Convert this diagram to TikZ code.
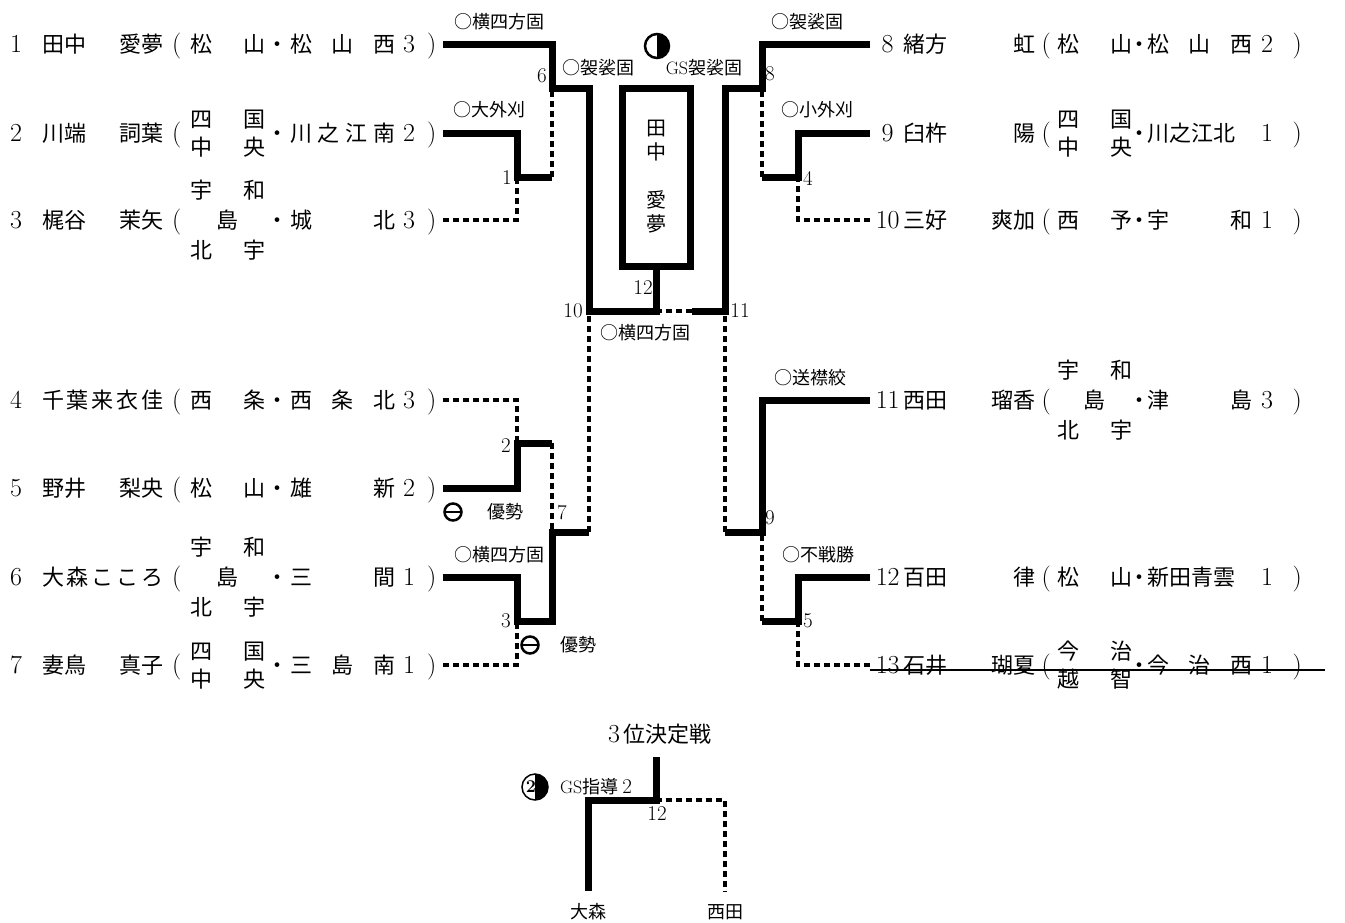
\documentclass[tikz,border=0pt]{standalone}
\usepackage{fontspec}
\usepackage{tikz}
\usetikzlibrary{calc}
\newfontfamily\jp{Noto Sans CJK JP}
\newcommand{\nmfont}{\fontsize{22}{28}\selectfont}
\newcommand{\lbfont}{\fontsize{18}{20}\selectfont\jp}
\newcommand{\dg}[1]{{\fontsize{26}{28}\selectfont #1}}
\newcommand{\twoln}[2]{\begin{tabular}{@{}c@{}}\makebox[75pt][s]{#1}\\\makebox[75pt][s]{#2}\end{tabular}}
\newcommand{\threeln}[3]{{\renewcommand{\arraystretch}{1.07}\begin{tabular}{@{}c@{}}\makebox[75pt][s]{#1}\\\makebox[75pt]{#2}\\\makebox[75pt][s]{#3}\end{tabular}}}
\newcommand{\entL}[5]{\makebox[32pt][l]{\dg{#1}}\makebox[121pt][s]{\jp #2}\makebox[27pt]{\dg{(}}\makebox[75pt][s]{\jp #3}\makebox[25pt]{\jp ・}\makebox[105pt][s]{\jp #4}\makebox[28pt]{\dg{#5}}\makebox[17pt]{\dg{)}}}
\newcommand{\entR}[5]{\makebox[31pt]{\dg{#1}}\makebox[132pt][s]{\jp #2}\makebox[22pt]{\dg{(}}\makebox[75pt][s]{\jp #3}\makebox[15pt]{\jp ・}\makebox[105pt][s]{\jp #4}\makebox[30pt]{\dg{#5}}\makebox[30pt]{\dg{)}}}
\tikzset{win/.style={line width=7pt},
  lose/.style={line width=3.5pt,dash pattern=on 6pt off 4pt},
  ent/.style={anchor=base west,inner sep=0pt,font=\nmfont},
  lab/.style={font=\lbfont,inner sep=0pt},
  num/.style={font=\fontsize{21}{22}\selectfont,inner sep=0pt},
  halfmark/.style={circle,draw,inner sep=0pt,path picture={\fill (path picture bounding box.north) rectangle (path picture bounding box.south east);}},
  minusmark/.style={circle,draw,line width=2.5pt,minimum size=17pt,inner sep=0pt,path picture={\draw[line width=2.5pt] (path picture bounding box.west) -- (path picture bounding box.east);}}}

\begin{document}
\begin{tikzpicture}[line join=miter,x=1pt,y=-1pt]
\useasboundingbox (0,0) rectangle (1345,922);
\node[ent] (p1) at (10,52) {\entL{1}{田中\hfill 愛夢}{松\hfill 山}{松\hfill 山\hfill 西}{3}};
\node[ent] (p2) at (10,141) {\entL{2}{川端\hfill 詞葉}{\twoln{四\hfill 国}{中\hfill 央}}{川\hfill 之\hfill 江\hfill 南}{2}};
\node[ent] (p3) at (10,228) {\entL{3}{梶谷\hfill 茉矢}{\threeln{宇\hfill 和}{島}{北\hfill 宇}}{城\hfill 北}{3}};
\node[ent] (p4) at (10,408) {\entL{4}{千\hfill 葉\hfill 来\hfill 衣\hfill 佳}{西\hfill 条}{西\hfill 条\hfill 北}{3}};
\node[ent] (p5) at (10,496) {\entL{5}{野井\hfill 梨央}{松\hfill 山}{雄\hfill 新}{2}};
\node[ent] (p6) at (10,585) {\entL{6}{大\hfill 森\hfill こ\hfill こ\hfill ろ}{\threeln{宇\hfill 和}{島}{北\hfill 宇}}{三\hfill 間}{1}};
\node[ent] (p7) at (10,673) {\entL{7}{妻鳥\hfill 真子}{\twoln{四\hfill 国}{中\hfill 央}}{三\hfill 島\hfill 南}{1}};
\node[ent] (p8) at (872,52) {\entR{8}{緒方\hfill 虹}{松\hfill 山}{松\hfill 山\hfill 西}{2}};
\node[ent] (p9) at (872,141) {\entR{9}{臼杵\hfill 陽}{\twoln{四\hfill 国}{中\hfill 央}}{川之江北}{1}};
\node[ent] (p10) at (872,228) {\entR{10}{三好\hfill 爽加}{西\hfill 予}{宇\hfill 和}{1}};
\node[ent] (p11) at (872,408) {\entR{11}{西田\hfill 瑠香}{\threeln{宇\hfill 和}{島}{北\hfill 宇}}{津\hfill 島}{3}};
\node[ent] (p12) at (872,585) {\entR{12}{百田\hfill 律}{松\hfill 山}{新田青雲}{1}};
\node[ent] (p13) at (872,673) {\entR{13}{石井\hfill 瑚夏}{\twoln{今\hfill 治}{越\hfill 智}}{今\hfill 治\hfill 西}{1}};
\draw [line width=1.6pt] (870,670) -- (1325,670);
\coordinate (a1) at (443,44);
\coordinate (a2) at (443,133);
\coordinate (a3) at (443,220);
\coordinate (a4) at (443,400);
\coordinate (a5) at (443,488);
\coordinate (a6) at (443,577);
\coordinate (a7) at (443,665);
\coordinate (b8) at (870,44);
\coordinate (b9) at (870,133);
\coordinate (b10) at (870,220);
\coordinate (b11) at (870,400);
\coordinate (b12) at (870,577);
\coordinate (b13) at (870,665);
\coordinate (m1) at (517,177);
\coordinate (m2) at (517,443);
\coordinate (m3) at (517,621);
\coordinate (m4) at (798,177);
\coordinate (m5) at (798,621);
\coordinate (m6) at (552,88);
\coordinate (m7) at (552,532);
\coordinate (m8) at (762,88);
\coordinate (m9) at (762,532);
\coordinate (m10) at (589,311);
\coordinate (m11) at (725,311);
\coordinate (m12) at (656,311);
\node[draw,line width=7pt,minimum width=68pt,minimum height=178pt,inner sep=0pt,align=center,font=\fontsize{20}{24}\selectfont\jp] (champ) at (656,177) {田\\中\\[24pt]愛\\夢};
\draw [win] (a1) -| (m6) -- (589,88) -- (m10) -- (m12) -- (champ.south);
\draw [win] (a2) -| (m1) -- (552,177);
\draw [lose] (552,177) -- (m6);
\draw [lose] (a3) -| (m1);
\draw [win] (b8) -| (m8) -- (725,88) -- (m11) -- (692,311);
\draw [lose] (692,311) -- (m12);
\draw [win] (b9) -| (m4) -- (762,177);
\draw [lose] (762,177) -- (m8);
\draw [lose] (b10) -| (m4);
\draw [lose] (a4) -| (m2);
\draw [win] (a5) -| (m2) -- (552,443);
\draw [lose] (552,443) -- (m7);
\draw [win] (a6) -| (m3) -- (552,621) -- (m7) -- (589,532);
\draw [lose] (a7) -| (m3);
\draw [lose] (589,532) -- (m10);
\draw [win] (b11) -| (m9) -- (725,532);
\draw [lose] (725,532) -- (m11);
\draw [win] (b12) -| (m5) -- (762,621);
\draw [lose] (762,621) -- (m9);
\draw [lose] (b13) -| (m5);
\node[num] (n1) at (507,178) {1};
\node[num] (n6) at (542,76) {6};
\node[num] (n2) at (506,446) {2};
\node[num] (n3) at (506,621) {3};
\node[num] (n7) at (562,513) {7};
\node[num] (n10) at (573,311) {10};
\node[num] (n12) at (643,288) {12};
\node[num] (n11) at (740,311) {11};
\node[num] (n8) at (770,74) {8};
\node[num] (n4) at (808,178) {4};
\node[num] (n9) at (770,518) {9};
\node[num] (n5) at (808,621) {5};
\node[lab] (w6) at (499,22) {○横四方固};
\node[lab] (w1) at (489,110) {○大外刈};
\node[lab] (w10) at (598,68) {○袈裟固};
\node[lab] (w12) at (704,68) {{\rmfamily GS}袈裟固};
\node[halfmark,line width=2.5pt,minimum size=24pt] (h12) at (657,46) {};
\node[lab] (w8) at (807,22) {○袈裟固};
\node[lab] (w4) at (817,110) {○小外刈};
\node[lab] (w11) at (645,333) {○横四方固};
\node[minusmark] (s2) at (453,512) {};
\node[lab] (w2) at (505,512) {優勢};
\node[lab] (w3) at (499,555) {○横四方固};
\node[minusmark] (s7) at (530,645) {};
\node[lab] (w7) at (578,645) {優勢};
\node[lab] (w9) at (810,378) {○送襟絞};
\node[lab] (w5) at (818,555) {○不戦勝};
\node[font=\nmfont] (ttl) at (660,734) {\dg{3}\,{\jp 位決定戦}};
\coordinate (t0) at (656,757);
\coordinate (t12) at (656,800);
\node[lab] (omori) at (588,912) {大森};
\node[lab] (nishida) at (725,912) {西田};
\draw [win] (t0) -- (t12) -| ($(omori.north)+(0,-13)$);
\draw [lose] (t12) -| ($(nishida.north)+(0,-13)$);
\node[num] (n12b) at (657,814) {12};
\node[halfmark,line width=1.5pt,minimum size=26pt] (h3) at (535,787) {};
\node[font=\fontsize{18}{18}\selectfont\bfseries] at ([xshift=-4pt]h3.center) {2};
\node[lab] (w3b) at (596,787) {{\rmfamily GS}指導 {\rmfamily\fontsize{21}{22}\selectfont 2}};
\end{tikzpicture}
\end{document}
